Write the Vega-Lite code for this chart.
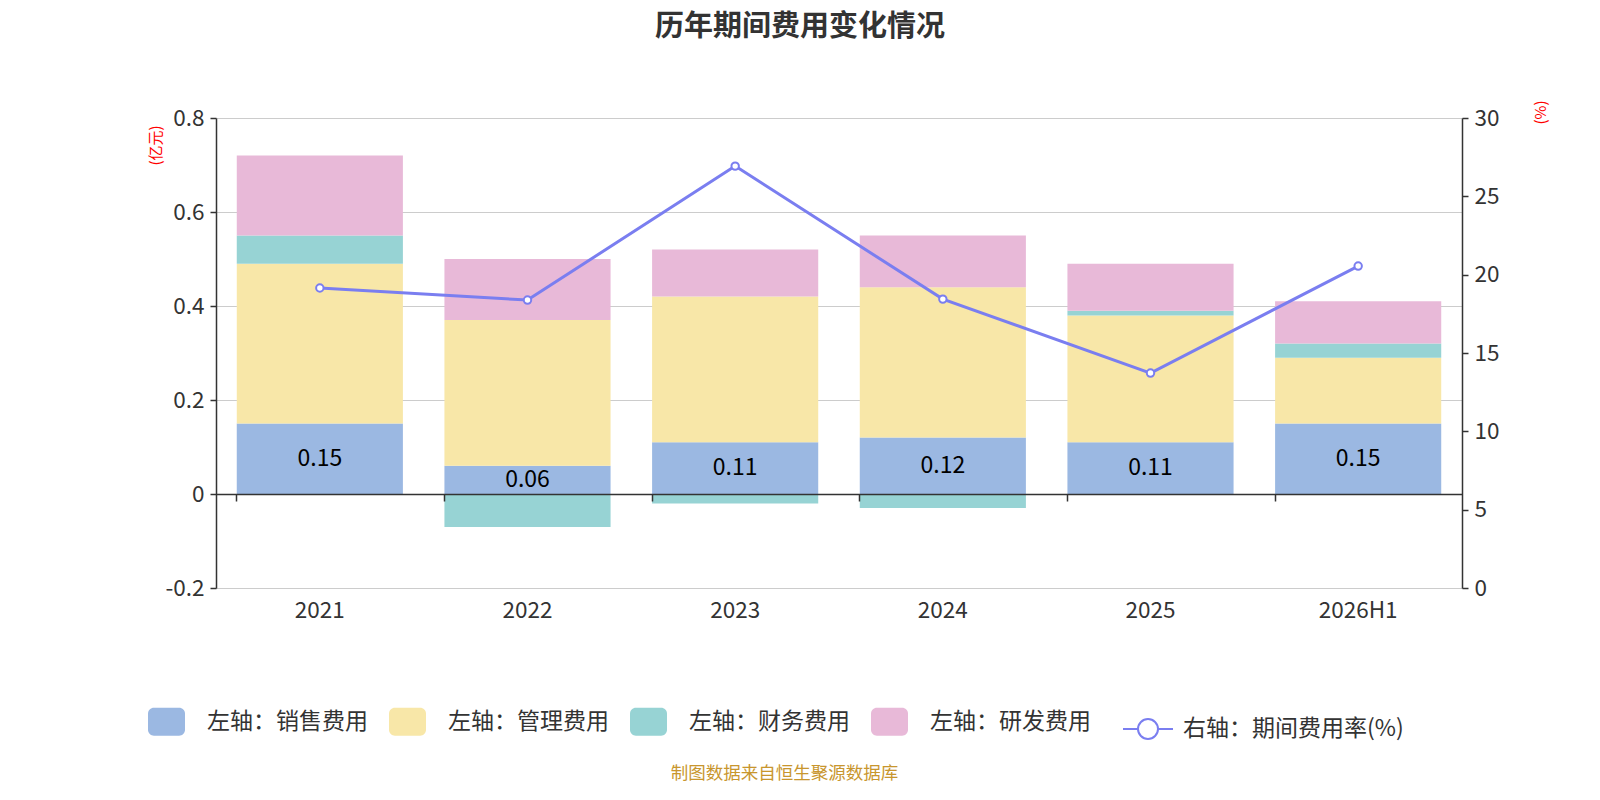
{
  "$schema": "https://vega.github.io/schema/vega-lite/v6.json",
  "width": 1246,
  "height": 470,
  "autosize": {"type": "none"},
  "padding": {"left": 216, "top": 118, "right": 138, "bottom": 212},
  "background": "white",
  "config": {
    "font": "Noto Sans CJK SC",
    "view": {"stroke": null},
    "axis": {"labelFont": "Noto Sans CJK SC", "titleFont": "Noto Sans CJK SC"},
    "legend": {"labelFont": "Noto Sans CJK SC"}
  },
  "title": {
    "text": "历年期间费用变化情况",
    "fontSize": 29,
    "fontWeight": "bold",
    "color": "#333333",
    "anchor": "middle",
    "dx": -39,
    "offset": 58
  },
  "datasets": {
    "fees": [
      {"year": "2021", "type": "销售费用", "order": 1, "value": 0.15},
      {"year": "2021", "type": "管理费用", "order": 2, "value": 0.34},
      {"year": "2021", "type": "财务费用", "order": 3, "value": 0.06},
      {"year": "2021", "type": "研发费用", "order": 4, "value": 0.17},
      {"year": "2022", "type": "销售费用", "order": 1, "value": 0.06},
      {"year": "2022", "type": "管理费用", "order": 2, "value": 0.31},
      {"year": "2022", "type": "财务费用", "order": 3, "value": -0.07},
      {"year": "2022", "type": "研发费用", "order": 4, "value": 0.13},
      {"year": "2023", "type": "销售费用", "order": 1, "value": 0.11},
      {"year": "2023", "type": "管理费用", "order": 2, "value": 0.31},
      {"year": "2023", "type": "财务费用", "order": 3, "value": -0.02},
      {"year": "2023", "type": "研发费用", "order": 4, "value": 0.10},
      {"year": "2024", "type": "销售费用", "order": 1, "value": 0.12},
      {"year": "2024", "type": "管理费用", "order": 2, "value": 0.32},
      {"year": "2024", "type": "财务费用", "order": 3, "value": -0.03},
      {"year": "2024", "type": "研发费用", "order": 4, "value": 0.11},
      {"year": "2025", "type": "销售费用", "order": 1, "value": 0.11},
      {"year": "2025", "type": "管理费用", "order": 2, "value": 0.27},
      {"year": "2025", "type": "财务费用", "order": 3, "value": 0.01},
      {"year": "2025", "type": "研发费用", "order": 4, "value": 0.10},
      {"year": "2026H1", "type": "销售费用", "order": 1, "value": 0.15},
      {"year": "2026H1", "type": "管理费用", "order": 2, "value": 0.14},
      {"year": "2026H1", "type": "财务费用", "order": 3, "value": 0.03},
      {"year": "2026H1", "type": "研发费用", "order": 4, "value": 0.09}
    ],
    "rate": [
      {"year": "2021", "name": "右轴：期间费用率(%)", "rate": 19.15},
      {"year": "2022", "name": "右轴：期间费用率(%)", "rate": 18.38},
      {"year": "2023", "name": "右轴：期间费用率(%)", "rate": 26.93},
      {"year": "2024", "name": "右轴：期间费用率(%)", "rate": 18.44},
      {"year": "2025", "name": "右轴：期间费用率(%)", "rate": 13.72},
      {"year": "2026H1", "name": "右轴：期间费用率(%)", "rate": 20.55}
    ]
  },
  "resolve": {
    "scale": {"y": "independent", "color": "independent"},
    "axis": {"x": "independent", "y": "independent"}
  },
  "layer": [
    {
      "data": {"name": "fees"},
      "encoding": {
        "x": {
          "field": "year",
          "type": "nominal",
          "sort": null,
          "scale": {"paddingInner": 0.2, "paddingOuter": 0.1},
          "axis": {
            "orient": "bottom",
            "title": "制图数据来自恒生聚源数据库",
            "titleFontSize": 17.5,
            "titleFontWeight": "normal",
            "titleColor": "#c8962e",
            "titleX": 568,
            "titleY": 185,
            "titleBaseline": "middle",
            "titleAlign": "center",
            "labelAngle": 0,
            "labelFontSize": 22.5,
            "labelColor": "#333333",
            "labelPadding": 11,
            "domain": false,
            "ticks": false,
            "grid": false
          }
        }
      },
      "layer": [
        {
          "mark": {"type": "bar"},
          "encoding": {
            "y": {
              "field": "value",
              "type": "quantitative",
              "stack": "zero",
              "scale": {"domain": [-0.2, 0.8], "nice": false},
              "axis": {
                "orient": "left",
                "values": [-0.2, 0, 0.2, 0.4, 0.6, 0.8],
                "labelExpr": "replace(format(datum.value, '.1~f'), '−', '-')",
                "labelFontSize": 22.5,
                "labelColor": "#333333",
                "labelPadding": 6,
                "domainColor": "#333333",
                "domainWidth": 1.5,
                "tickColor": "#333333",
                "tickWidth": 1.5,
                "tickSize": 6,
                "grid": true,
                "gridColor": "#cccccc",
                "gridWidth": 1.2,
                "title": "(亿元)",
                "titleColor": "#ff0000",
                "titleFontSize": 15,
                "titleFontWeight": "normal",
                "titleAngle": -90,
                "titleX": -61,
                "titleY": 27,
                "titleAlign": "center",
                "titleBaseline": "middle"
              }
            },
            "color": {
              "field": "type",
              "type": "nominal",
              "scale": {
                "domain": ["销售费用", "管理费用", "财务费用", "研发费用"],
                "range": ["#9bb8e2", "#f8e7a8", "#97d3d4", "#e8b9d8"]
              },
              "legend": {
                "orient": "none",
                "legendX": -68,
                "legendY": 585,
                "direction": "horizontal",
                "title": null,
                "padding": 0,
                "labelExpr": "'左轴：' + datum.label",
                "labelFontSize": 23,
                "labelColor": "#333333",
                "labelOffset": 22,
                "columnPadding": 21,
                "labelLimit": 400,
                "symbolSize": 1369,
                "symbolStrokeWidth": 0,
                "symbolOpacity": 1,
                "symbolType": "M-0.68,-0.757H0.68A0.32,0.32 0 0 1 1,-0.437V0.437A0.32,0.32 0 0 1 0.68,0.757H-0.68A0.32,0.32 0 0 1 -1,0.437V-0.437A0.32,0.32 0 0 1 -0.68,-0.757Z"
              }
            },
            "order": {"field": "order", "type": "quantitative"}
          }
        },
        {
          "transform": [
            {"filter": "datum.type === '销售费用'"},
            {"calculate": "datum.value / 2", "as": "mid"}
          ],
          "mark": {"type": "text", "fontSize": 23, "color": "#000000", "baseline": "middle", "align": "center"},
          "encoding": {
            "y": {"field": "mid", "type": "quantitative"},
            "text": {"field": "value", "type": "quantitative", "format": ".2f"}
          }
        }
      ]
    },
    {
      "data": {"name": "rate"},
      "encoding": {
        "x": {
          "field": "year",
          "type": "nominal",
          "sort": null,
          "axis": {
            "orient": "bottom",
            "offset": -94,
            "labels": false,
            "title": null,
            "bandPosition": 0,
            "domainColor": "#333333",
            "domainWidth": 1.5,
            "tickColor": "#333333",
            "tickWidth": 1.5,
            "tickSize": 7,
            "grid": false,
            "zindex": 1
          }
        },
        "y": {
          "field": "rate",
          "type": "quantitative",
          "scale": {"domain": [0, 30], "nice": false},
          "axis": {
            "orient": "right",
            "values": [0, 5, 10, 15, 20, 25, 30],
            "labelFontSize": 22.5,
            "labelColor": "#333333",
            "labelPadding": 6,
            "domainColor": "#333333",
            "domainWidth": 1.5,
            "tickColor": "#333333",
            "tickWidth": 1.5,
            "tickSize": 6,
            "grid": false,
            "title": "(%)",
            "titleColor": "#ff0000",
            "titleFontSize": 15,
            "titleFontWeight": "normal",
            "titleAngle": -90,
            "titleX": 78,
            "titleY": -6,
            "titleAlign": "center",
            "titleBaseline": "middle"
          }
        }
      },
      "layer": [
        {
          "mark": {"type": "line", "strokeWidth": 3},
          "encoding": {
            "color": {
              "field": "name",
              "type": "nominal",
              "scale": {"range": ["#7a7ef0"]},
              "legend": {
                "orient": "none",
                "legendX": 906,
                "legendY": 585,
                "direction": "horizontal",
                "title": null,
                "padding": 0,
                "labelFontSize": 23,
                "labelColor": "#333333",
                "labelOffset": 9,
                "labelLimit": 400,
                "symbolSize": 2500,
                "symbolStrokeWidth": 2,
                "symbolType": "M-1,0H-0.4M0.4,0H1M-0.4,0A0.4,0.4 0 1 1 0.4,0A0.4,0.4 0 1 1 -0.4,0Z",
                "symbolFillColor": "white",
                "encode": {"symbols": {"update": {"fill": {"value": "white"}, "stroke": {"value": "#7a7ef0"}, "opacity": {"value": 1}}}}
              }
            }
          }
        },
        {
          "mark": {"type": "point", "filled": true, "fill": "white", "stroke": "#7a7ef0", "strokeWidth": 2, "size": 55, "opacity": 1},
          "encoding": {}
        }
      ]
    }
  ]
}
